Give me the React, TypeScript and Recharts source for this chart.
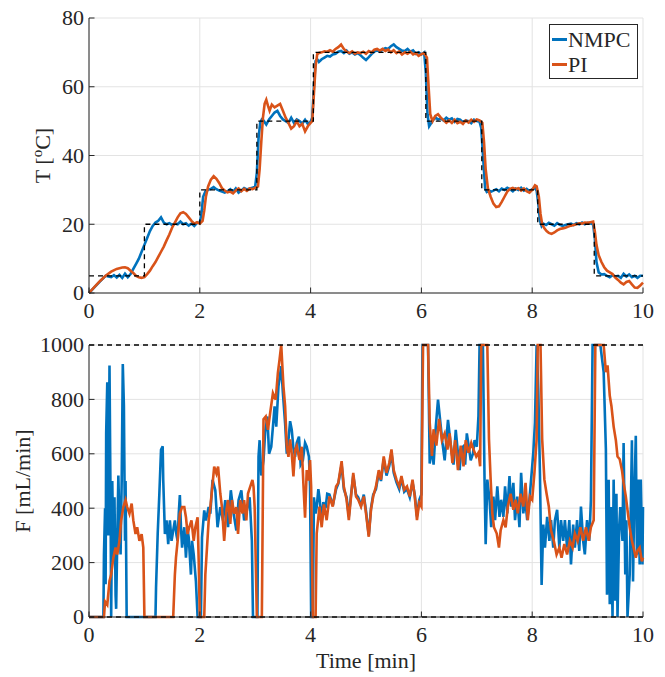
import React from 'react';
import { LineChart, Line, XAxis, YAxis, CartesianGrid } from 'recharts';

// time [min], temperature [°C]
const setpointTemp: [number, number][] = [
  [0, 5], [1, 20], [2, 30], [3.03, 50], [4.05, 70], [6.08, 50], [7.09, 30], [8.1, 20], [9.12, 5], [10, 5],
];

const nmpcTemp: [number, number][] = [
  [0, 0], [0.1, 1.7], [0.2, 3.4], [0.3, 5], [0.35, 4.8], [0.4, 4.6], [0.45, 5.2], [0.5, 4.5], [0.55, 5.3], [0.6, 4.4],
  [0.65, 5.6], [0.7, 4.6], [0.75, 5.5], [0.8, 7], [0.85, 8.5], [0.9, 10], [0.95, 12], [1.0, 14], [1.05, 16], [1.1, 18],
  [1.15, 19.5], [1.2, 20.5], [1.25, 21], [1.3, 22], [1.35, 20.5], [1.4, 20], [1.45, 20.3], [1.5, 19.8], [1.55, 20.2], [1.6, 20],
  [1.65, 20.8], [1.7, 20], [1.75, 20.3], [1.8, 19.6], [1.85, 20.2], [1.9, 19.5], [1.95, 20.4], [2.0, 20.5], [2.03, 23], [2.06, 28],
  [2.1, 29.5], [2.15, 30], [2.2, 30.3], [2.25, 30.8], [2.3, 30.2], [2.35, 29.8], [2.4, 29.5], [2.45, 29.2], [2.5, 29.6], [2.55, 30.2],
  [2.6, 29.4], [2.65, 30.4], [2.7, 29.2], [2.75, 29.8], [2.8, 30.5], [2.85, 30.1], [2.9, 30.4], [2.95, 30.6], [3.0, 31], [3.03, 35],
  [3.06, 45], [3.09, 49.5], [3.12, 50.5], [3.15, 50.2], [3.2, 49], [3.25, 50.5], [3.3, 51.5], [3.35, 52.5], [3.4, 53], [3.45, 51.5],
  [3.5, 50.5], [3.55, 50], [3.6, 49.5], [3.65, 51], [3.7, 49.5], [3.75, 50.5], [3.8, 50], [3.85, 49.3], [3.9, 50.4], [3.95, 49.2],
  [4.0, 49.8], [4.03, 51], [4.06, 60], [4.09, 67.5], [4.12, 68], [4.15, 67.2], [4.2, 68], [4.25, 68.5], [4.3, 69], [4.35, 68.8],
  [4.4, 69.4], [4.45, 69.6], [4.5, 70.2], [4.55, 70.4], [4.6, 69.8], [4.65, 70.5], [4.7, 69.6], [4.75, 70], [4.8, 69.4], [4.85, 69.8],
  [4.9, 69.2], [4.95, 68.4], [5.0, 67.8], [5.05, 68.6], [5.1, 69.5], [5.15, 70.2], [5.2, 70.6], [5.25, 70.2], [5.3, 70.8], [5.35, 71.2],
  [5.4, 71], [5.45, 71.8], [5.5, 72.3], [5.55, 71.5], [5.6, 71], [5.65, 70.5], [5.7, 70.4], [5.75, 71], [5.8, 70.2], [5.85, 70.6],
  [5.9, 69.6], [5.95, 70], [6.0, 69.4], [6.05, 70], [6.08, 64], [6.11, 52], [6.14, 48.5], [6.18, 49.5], [6.22, 50.5], [6.26, 51],
  [6.3, 50.5], [6.35, 50.8], [6.4, 50.2], [6.45, 51], [6.5, 50.4], [6.55, 50.8], [6.6, 49.8], [6.65, 50.6], [6.7, 50.4], [6.75, 49.6],
  [6.8, 50.2], [6.85, 50], [6.9, 49.4], [6.95, 50.4], [7.0, 50], [7.05, 49.8], [7.08, 48], [7.12, 38], [7.15, 30.5], [7.18, 29.4],
  [7.22, 29.8], [7.26, 29.5], [7.3, 29.8], [7.35, 30.2], [7.4, 29.6], [7.45, 30.4], [7.5, 30], [7.55, 30.6], [7.6, 30.2], [7.65, 29.6],
  [7.7, 30.4], [7.75, 30], [7.8, 30.6], [7.85, 29.8], [7.9, 30.3], [7.95, 29.6], [8.0, 30.2], [8.05, 30.5], [8.08, 29.8], [8.11, 26],
  [8.14, 21], [8.17, 19.5], [8.2, 20.2], [8.25, 19.8], [8.3, 20.4], [8.35, 20], [8.4, 19.6], [8.45, 20.3], [8.5, 19.8], [8.55, 19.5],
  [8.6, 19.8], [8.65, 20], [8.7, 20.2], [8.75, 19.8], [8.8, 20.3], [8.85, 20], [8.9, 20.5], [8.95, 20], [9.0, 20.4], [9.05, 20.2],
  [9.1, 20], [9.13, 16], [9.16, 9], [9.2, 6], [9.25, 5.4], [9.3, 5.5], [9.35, 5], [9.4, 4.6], [9.45, 5.2], [9.5, 4.8],
  [9.55, 5], [9.6, 4.4], [9.65, 5.6], [9.7, 4.8], [9.75, 5.4], [9.8, 4.6], [9.85, 5], [9.9, 4.4], [9.95, 5], [10, 5],
];

const piTemp: [number, number][] = [
  [0, 0], [0.1, 1.8], [0.2, 3.5], [0.3, 5], [0.4, 6.2], [0.5, 7], [0.6, 7.4], [0.65, 7.5], [0.7, 7.2], [0.75, 6.5],
  [0.8, 5.8], [0.85, 5], [0.9, 4.6], [0.95, 4.4], [1.0, 4.6], [1.05, 5.5], [1.1, 6.5], [1.15, 7.8], [1.2, 9], [1.25, 10.5],
  [1.3, 12], [1.35, 13.5], [1.4, 15.3], [1.45, 17], [1.5, 19], [1.55, 20.5], [1.6, 22], [1.65, 23.2], [1.7, 23.5], [1.75, 23],
  [1.8, 22], [1.85, 21], [1.9, 20.2], [1.95, 20.6], [2.0, 20.2], [2.05, 21], [2.08, 24], [2.11, 28], [2.15, 31], [2.2, 33],
  [2.25, 34], [2.3, 33.2], [2.35, 32], [2.4, 30.5], [2.45, 29.8], [2.5, 29.3], [2.55, 29.5], [2.6, 29], [2.65, 29.8], [2.7, 30.4],
  [2.75, 29.6], [2.8, 30.3], [2.85, 29.7], [2.9, 30.4], [2.95, 30.2], [3.0, 30.6], [3.05, 31], [3.08, 36], [3.11, 44], [3.14, 51],
  [3.17, 55], [3.2, 56.2], [3.23, 54.5], [3.26, 53], [3.3, 54.8], [3.35, 54], [3.4, 54.5], [3.45, 55], [3.5, 53], [3.55, 51],
  [3.6, 49.5], [3.65, 47.8], [3.7, 48.5], [3.75, 50], [3.8, 48.5], [3.85, 49.2], [3.9, 47], [3.95, 48.5], [4.0, 49.5], [4.03, 50],
  [4.06, 58], [4.09, 66], [4.12, 69.5], [4.15, 69.8], [4.2, 70], [4.25, 70.3], [4.3, 70.2], [4.35, 70.6], [4.4, 70.2], [4.45, 71],
  [4.5, 71.5], [4.55, 72.3], [4.6, 71], [4.65, 70.2], [4.7, 69.8], [4.75, 70.3], [4.8, 69.6], [4.85, 70], [4.9, 69.8], [4.95, 70.2],
  [5.0, 69.6], [5.05, 70.4], [5.1, 70], [5.15, 70.8], [5.2, 71], [5.25, 70.5], [5.3, 71], [5.35, 70.4], [5.4, 70.8], [5.45, 70],
  [5.5, 70.6], [5.55, 69.8], [5.6, 70.3], [5.65, 69.4], [5.7, 70], [5.75, 69.6], [5.8, 70.2], [5.85, 69.4], [5.9, 69.8], [5.95, 69],
  [6.0, 69.5], [6.05, 69.8], [6.1, 68.5], [6.13, 60], [6.16, 52], [6.2, 50], [6.25, 51.5], [6.3, 52], [6.35, 51], [6.4, 50.3],
  [6.45, 49.5], [6.5, 50.2], [6.55, 49.5], [6.6, 50.4], [6.65, 49.4], [6.7, 49.8], [6.75, 49.2], [6.8, 50.2], [6.85, 49.6], [6.9, 50.4],
  [6.95, 49.8], [7.0, 50.5], [7.05, 50.2], [7.1, 49.5], [7.13, 44], [7.16, 36], [7.2, 30.5], [7.25, 28], [7.3, 26], [7.35, 25],
  [7.4, 25.2], [7.45, 26.5], [7.5, 28], [7.55, 29.5], [7.6, 30.3], [7.65, 30.6], [7.7, 30.2], [7.75, 30.5], [7.8, 29.8], [7.85, 30.4],
  [7.9, 29.6], [7.95, 29.2], [8.0, 30], [8.05, 31.3], [8.08, 31], [8.12, 28], [8.15, 23], [8.18, 20], [8.22, 18.8], [8.26, 18],
  [8.3, 17.5], [8.35, 17.2], [8.4, 17.6], [8.45, 18.2], [8.5, 18.6], [8.55, 18.8], [8.6, 19], [8.65, 19.3], [8.7, 19.6], [8.75, 19.8],
  [8.8, 20], [8.85, 20.3], [8.9, 20.2], [8.95, 20.5], [9.0, 20.4], [9.05, 20.6], [9.1, 20.8], [9.13, 18], [9.16, 14], [9.2, 11],
  [9.25, 9], [9.3, 7.5], [9.35, 6.5], [9.4, 6], [9.45, 5.5], [9.5, 4.5], [9.55, 3.8], [9.6, 3], [9.65, 2.5], [9.7, 3.2],
  [9.75, 3.5], [9.8, 2.5], [9.85, 1.6], [9.9, 1.5], [9.95, 2.2], [10, 3],
];

// time [min], flow [mL/min]
const flowLimitLow: [number, number][] = [[0, 0], [10, 0]];
const flowLimitHigh: [number, number][] = [[0, 1000], [10, 1000]];

const nmpcFlow: [number, number][] = [
  [0, 0], [0.26, 0], [0.27, 230], [0.29, 400], [0.3, 120], [0.31, 677], [0.33, 863], [0.35, 300], [0.37, 925], [0.39, 400],
  [0.4, 0], [0.42, 500], [0.44, 220], [0.46, 440], [0.48, 80], [0.49, 30], [0.51, 280], [0.53, 520], [0.55, 340], [0.57, 230],
  [0.59, 500], [0.61, 930], [0.63, 776], [0.65, 280], [0.66, 500], [0.68, 0], [1.2, 0], [1.21, 107], [1.24, 305], [1.27, 454],
  [1.3, 615], [1.33, 628], [1.34, 504], [1.37, 305], [1.4, 355], [1.43, 268], [1.46, 355], [1.49, 280], [1.51, 305], [1.55, 355],
  [1.58, 300], [1.6, 280], [1.62, 380], [1.64, 448], [1.66, 330], [1.68, 255], [1.72, 330], [1.75, 218], [1.78, 320], [1.8, 293],
  [1.84, 156], [1.86, 280], [1.89, 230], [1.93, 131], [1.96, 0], [2.02, 0], [2.04, 293], [2.08, 392], [2.11, 355], [2.16, 404],
  [2.19, 380], [2.23, 504], [2.28, 466], [2.32, 330], [2.37, 404], [2.42, 355], [2.46, 430], [2.51, 330], [2.56, 466], [2.61, 380],
  [2.66, 318], [2.7, 430], [2.75, 466], [2.8, 355], [2.85, 392], [2.9, 440], [2.94, 280], [2.96, 0], [3.04, 0], [3.06, 590],
  [3.08, 650], [3.11, 520], [3.15, 576], [3.18, 680], [3.22, 737], [3.25, 600], [3.29, 626], [3.32, 700], [3.35, 774], [3.38, 700],
  [3.42, 848], [3.47, 922], [3.5, 823], [3.54, 712], [3.57, 600], [3.6, 650], [3.63, 720], [3.66, 688], [3.69, 620], [3.72, 589],
  [3.75, 640], [3.79, 663], [3.82, 560], [3.86, 576], [3.9, 640], [3.93, 626], [3.97, 589], [3.99, 480], [4.01, 0], [4.04, 0],
  [4.06, 440], [4.09, 380], [4.11, 404], [4.14, 470], [4.16, 440], [4.2, 350], [4.23, 422], [4.27, 400], [4.3, 453], [4.34, 450],
  [4.4, 410], [4.46, 470], [4.5, 490], [4.56, 560], [4.6, 470], [4.65, 440], [4.69, 370], [4.73, 450], [4.77, 520], [4.82, 450],
  [4.86, 440], [4.91, 410], [4.96, 450], [5.0, 390], [5.05, 300], [5.09, 400], [5.13, 450], [5.18, 470], [5.23, 530], [5.27, 500],
  [5.32, 580], [5.37, 520], [5.42, 555], [5.46, 605], [5.5, 530], [5.55, 495], [5.6, 470], [5.64, 510], [5.69, 460], [5.74, 470],
  [5.79, 440], [5.84, 495], [5.88, 450], [5.92, 370], [5.96, 430], [6.0, 450], [6.02, 1000], [6.12, 1000], [6.15, 564], [6.19, 620],
  [6.22, 560], [6.26, 700], [6.3, 799], [6.35, 700], [6.38, 640], [6.42, 576], [6.48, 725], [6.52, 650], [6.55, 601], [6.58, 560],
  [6.62, 688], [6.66, 600], [6.69, 540], [6.72, 620], [6.75, 626], [6.79, 560], [6.82, 675], [6.86, 620], [6.89, 576], [6.93, 600],
  [6.96, 650], [7.0, 626], [7.03, 740], [7.05, 1000], [7.11, 1000], [7.14, 500], [7.16, 268], [7.19, 505], [7.23, 431], [7.26, 330],
  [7.3, 443], [7.33, 356], [7.37, 480], [7.41, 368], [7.44, 431], [7.48, 368], [7.51, 480], [7.55, 381], [7.59, 518], [7.62, 406],
  [7.66, 493], [7.69, 356], [7.73, 443], [7.77, 330], [7.8, 530], [7.84, 381], [7.87, 443], [7.91, 356], [7.95, 431], [7.98, 505],
  [8.02, 604], [8.05, 715], [8.08, 1000], [8.11, 836], [8.14, 527], [8.17, 118], [8.2, 340], [8.23, 255], [8.27, 368], [8.31, 280],
  [8.34, 356], [8.38, 255], [8.41, 356], [8.45, 394], [8.49, 255], [8.52, 356], [8.56, 280], [8.59, 356], [8.63, 255], [8.67, 356],
  [8.7, 193], [8.74, 340], [8.77, 255], [8.81, 356], [8.85, 243], [8.88, 406], [8.92, 280], [8.95, 230], [8.99, 356], [9.03, 280],
  [9.06, 431], [9.09, 1000], [9.23, 1000], [9.26, 950], [9.29, 900], [9.33, 616], [9.35, 82], [9.38, 505], [9.4, 47], [9.42, 404],
  [9.45, 0], [9.47, 505], [9.5, 60], [9.52, 453], [9.54, 0], [9.57, 330], [9.59, 404], [9.63, 280], [9.65, 640], [9.68, 156],
  [9.7, 356], [9.72, 0], [9.76, 156], [9.8, 650], [9.82, 131], [9.84, 404], [9.87, 666], [9.89, 230], [9.92, 505], [9.94, 193],
  [9.96, 505], [9.99, 193], [10, 404],
];

const piFlow: [number, number][] = [
  [0, 0], [0.27, 0], [0.29, 57], [0.33, 45], [0.37, 132], [0.4, 156], [0.44, 218], [0.48, 255], [0.51, 230], [0.55, 280],
  [0.58, 355], [0.62, 404], [0.66, 430], [0.69, 404], [0.73, 380], [0.77, 417], [0.8, 355], [0.84, 305], [0.87, 330], [0.91, 280],
  [0.95, 305], [0.98, 255], [1.0, 0], [1.52, 0], [1.55, 156], [1.57, 218], [1.6, 280], [1.62, 330], [1.64, 380], [1.68, 404],
  [1.72, 404], [1.75, 367], [1.78, 305], [1.81, 330], [1.85, 355], [1.89, 280], [1.92, 330], [1.96, 367], [1.98, 206], [2.0, 0],
  [2.08, 0], [2.1, 156], [2.13, 255], [2.16, 355], [2.19, 404], [2.22, 466], [2.26, 553], [2.3, 528], [2.33, 553], [2.37, 454],
  [2.4, 404], [2.44, 280], [2.48, 392], [2.51, 430], [2.55, 342], [2.58, 430], [2.62, 380], [2.66, 404], [2.69, 305], [2.73, 430],
  [2.77, 380], [2.8, 430], [2.84, 355], [2.87, 454], [2.91, 479], [2.95, 504], [2.97, 479], [2.99, 404], [3.03, 0], [3.12, 0],
  [3.15, 727], [3.19, 737], [3.23, 688], [3.27, 750], [3.32, 823], [3.37, 799], [3.41, 898], [3.44, 947], [3.47, 1000], [3.51, 848],
  [3.54, 775], [3.57, 629], [3.6, 589], [3.63, 653], [3.66, 600], [3.69, 517], [3.72, 614], [3.75, 629], [3.8, 577], [3.84, 626],
  [3.87, 489], [3.9, 365], [3.93, 540], [3.96, 502], [3.99, 577], [4.01, 478], [4.04, 0], [4.09, 0], [4.11, 307], [4.16, 406],
  [4.2, 330], [4.24, 414], [4.29, 356], [4.34, 443], [4.4, 406], [4.46, 480], [4.5, 493], [4.56, 573], [4.6, 480], [4.65, 431],
  [4.69, 356], [4.73, 443], [4.77, 530], [4.82, 443], [4.86, 431], [4.91, 406], [4.96, 443], [5.0, 381], [5.05, 295], [5.09, 394],
  [5.13, 443], [5.18, 480], [5.23, 540], [5.27, 505], [5.32, 590], [5.37, 530], [5.42, 566], [5.46, 616], [5.5, 540], [5.55, 505],
  [5.6, 480], [5.64, 518], [5.69, 468], [5.74, 480], [5.79, 443], [5.84, 505], [5.88, 443], [5.92, 356], [5.96, 420], [6.0, 406],
  [6.03, 1000], [6.12, 1000], [6.15, 715], [6.19, 592], [6.22, 690], [6.27, 630], [6.32, 728], [6.37, 650], [6.42, 675], [6.47, 616],
  [6.51, 675], [6.56, 566], [6.61, 650], [6.66, 540], [6.71, 630], [6.76, 554], [6.8, 650], [6.85, 604], [6.9, 640], [6.94, 616],
  [6.99, 590], [7.03, 604], [7.06, 554], [7.08, 1000], [7.19, 1000], [7.22, 653], [7.25, 505], [7.28, 381], [7.31, 330], [7.36, 307],
  [7.4, 255], [7.43, 318], [7.48, 356], [7.52, 330], [7.56, 406], [7.61, 453], [7.66, 394], [7.7, 431], [7.74, 381], [7.79, 453],
  [7.84, 406], [7.88, 493], [7.92, 356], [7.96, 443], [8.0, 431], [8.04, 530], [8.08, 653], [8.1, 1000], [8.15, 1000], [8.18, 653],
  [8.22, 505], [8.26, 453], [8.3, 406], [8.34, 318], [8.39, 280], [8.44, 230], [8.49, 255], [8.53, 218], [8.58, 268], [8.63, 230],
  [8.68, 280], [8.73, 255], [8.77, 307], [8.82, 280], [8.87, 330], [8.92, 280], [8.97, 330], [9.02, 280], [9.06, 330], [9.11, 356],
  [9.14, 1000], [9.29, 1000], [9.33, 900], [9.36, 925], [9.4, 814], [9.43, 776], [9.47, 700], [9.51, 650], [9.54, 590], [9.58, 580],
  [9.62, 540], [9.65, 493], [9.69, 443], [9.72, 394], [9.76, 330], [9.8, 280], [9.83, 255], [9.87, 218], [9.9, 243], [9.94, 255],
  [9.98, 205], [10, 218],
];

const timeTicks = [0, 2, 4, 6, 8, 10];
const tempTicks = [0, 20, 40, 60, 80];
const flowTicks = [0, 200, 400, 600, 800, 1000];
const legendNames = ['NMPC', 'PI'];

const BLUE = '#0072BD';
const ORANGE = '#D95319';
const AXIS = '#262626';
const GRID = '#e3e3e3';
const FONT = '"Liberation Serif", "Times New Roman", serif';
const FS = 22;

const pts = (arr: [number, number][]) => arr.map(([t, v]) => ({ t, v }));

// MATLAB style ticks: short marks pointing into the plot box
const tickFor = (side: 'left' | 'right' | 'top' | 'bottom', label: boolean) => (props: any) => {
  const { x, y, payload } = props;
  const L = 5.5;
  let line = null;
  let text = null;
  if (side === 'left') {
    line = <line x1={x} x2={x + L} y1={y} y2={y} stroke={AXIS} strokeWidth={1} />;
    if (label) text = <text x={x - 5} y={y} dy="0.34em" textAnchor="end" fill={AXIS} fontSize={FS} fontFamily={FONT}>{payload.value}</text>;
  } else if (side === 'right') {
    line = <line x1={x} x2={x - L} y1={y} y2={y} stroke={AXIS} strokeWidth={1} />;
  } else if (side === 'top') {
    line = <line x1={x} x2={x} y1={y} y2={y + L} stroke={AXIS} strokeWidth={1} />;
  } else {
    line = <line x1={x} x2={x} y1={y} y2={y - L} stroke={AXIS} strokeWidth={1} />;
    if (label) text = <text x={x} y={y + 25} textAnchor="middle" fill={AXIS} fontSize={FS} fontFamily={FONT}>{payload.value}</text>;
  }
  return <g>{line}{text}</g>;
};

const LegendBox = () => (
  <div style={{ position: 'absolute', left: 549, top: 24, border: `1px solid ${AXIS}`, background: '#fff', width: 89, height: 55,
    boxSizing: 'border-box', padding: '2px 0 0 2px', fontFamily: FONT, fontSize: FS, color: AXIS }}>
    {legendNames.map((name, i) => (
      <div key={name} style={{ display: 'flex', alignItems: 'center', height: 25, lineHeight: '25px' }}>
        <span style={{ display: 'inline-block', width: 15, height: 3, background: i === 0 ? BLUE : ORANGE, marginRight: 1 }} />
        <span>{name}</span>
      </div>
    ))}
  </div>
);

const TempLabel = (props: any) => {
  const vb = props.viewBox;
  const cx = 50;
  const cy = vb.y + vb.height / 2;
  return (
    <text x={cx} y={cy} transform={`rotate(-90, ${cx}, ${cy})`} textAnchor="middle" fill={AXIS} fontSize={FS} fontFamily={FONT}>
      <tspan>T [</tspan>
      <tspan dy={-8} fontSize={15}>o</tspan>
      <tspan dy={8}>C]</tspan>
    </text>
  );
};

const FlowLabel = (props: any) => {
  const vb = props.viewBox;
  const cx = 30;
  const cy = vb.y + vb.height / 2;
  return (
    <text x={cx} y={cy} transform={`rotate(-90, ${cx}, ${cy})`} textAnchor="middle" fill={AXIS} fontSize={FS} fontFamily={FONT}>
      F [mL/min]
    </text>
  );
};

const TimeLabel = (props: any) => {
  const vb = props.viewBox;
  return (
    <text x={vb.x + vb.width / 2} y={vb.y + 51} textAnchor="middle" fill={AXIS} fontSize={FS} fontFamily={FONT}>
      Time [min]
    </text>
  );
};

export default function App() {
  return (
    <div style={{ position: 'absolute', left: 0, top: 0, width: 665, height: 677, background: '#fff', fontFamily: FONT }}>
      <div style={{ position: 'absolute', left: 0, top: 0 }}>
        <LineChart width={665} height={330} margin={{ top: 18, right: 22, left: 0, bottom: 0 }}>
          <CartesianGrid stroke={GRID} strokeWidth={1} />
          <XAxis type="number" dataKey="t" domain={[0, 10]} ticks={timeTicks} height={37} tickSize={0} tickMargin={0}
            axisLine={{ stroke: AXIS }} tickLine={false} tick={tickFor('bottom', true)} interval={0} />
          <XAxis xAxisId="top" orientation="top" type="number" dataKey="t" domain={[0, 10]} ticks={timeTicks} height={0}
            tickSize={0} tickMargin={0} axisLine={{ stroke: AXIS }} tickLine={false} tick={tickFor('top', false)} interval={0} />
          <YAxis type="number" domain={[0, 80]} ticks={tempTicks} width={89} tickSize={0} tickMargin={0}
            axisLine={{ stroke: AXIS }} tickLine={false} tick={tickFor('left', true)} interval={0} label={{ content: TempLabel }} />
          <YAxis yAxisId="right" orientation="right" type="number" domain={[0, 80]} ticks={tempTicks} width={0}
            tickSize={0} tickMargin={0} axisLine={{ stroke: AXIS }} tickLine={false} tick={tickFor('right', false)} interval={0} />
          <Line data={pts(nmpcTemp)} dataKey="v" name="NMPC" stroke={BLUE} strokeWidth={2.6} dot={false} activeDot={false} isAnimationActive={false} />
          <Line data={pts(piTemp)} dataKey="v" name="PI" stroke={ORANGE} strokeWidth={2.6} dot={false} activeDot={false} isAnimationActive={false} />
          <Line data={pts(setpointTemp)} dataKey="v" name="ref" type="stepAfter" stroke="#000" strokeWidth={1.3} strokeDasharray="5 4"
            dot={false} activeDot={false} isAnimationActive={false} />
        </LineChart>
        <LegendBox />
      </div>
      <div style={{ position: 'absolute', left: 0, top: 320 }}>
        <LineChart width={665} height={357} margin={{ top: 25, right: 22, left: 0, bottom: 0 }}>
          <CartesianGrid stroke={GRID} strokeWidth={1} />
          <XAxis type="number" dataKey="t" domain={[0, 10]} ticks={timeTicks} height={60} tickSize={0} tickMargin={0}
            axisLine={{ stroke: AXIS }} tickLine={false} tick={tickFor('bottom', true)} interval={0} label={{ content: TimeLabel }} />
          <XAxis xAxisId="top" orientation="top" type="number" dataKey="t" domain={[0, 10]} ticks={timeTicks} height={0}
            tickSize={0} tickMargin={0} axisLine={{ stroke: AXIS }} tickLine={false} tick={tickFor('top', false)} interval={0} />
          <YAxis type="number" domain={[0, 1000]} ticks={flowTicks} width={89} tickSize={0} tickMargin={0}
            axisLine={{ stroke: AXIS }} tickLine={false} tick={tickFor('left', true)} interval={0} label={{ content: FlowLabel }} />
          <YAxis yAxisId="right" orientation="right" type="number" domain={[0, 1000]} ticks={flowTicks} width={0}
            tickSize={0} tickMargin={0} axisLine={{ stroke: AXIS }} tickLine={false} tick={tickFor('right', false)} interval={0} />
          <Line data={pts(nmpcFlow)} dataKey="v" name="NMPC" stroke={BLUE} strokeWidth={2.6} dot={false} activeDot={false} isAnimationActive={false} />
          <Line data={pts(piFlow)} dataKey="v" name="PI" stroke={ORANGE} strokeWidth={2.6} dot={false} activeDot={false} isAnimationActive={false} />
          <Line data={pts(flowLimitLow)} dataKey="v" name="min" stroke="#000" strokeWidth={1.3} strokeDasharray="5 4"
            dot={false} activeDot={false} isAnimationActive={false} />
          <Line data={pts(flowLimitHigh)} dataKey="v" name="max" stroke="#000" strokeWidth={1.3} strokeDasharray="5 4"
            dot={false} activeDot={false} isAnimationActive={false} />
        </LineChart>
      </div>
    </div>
  );
}
